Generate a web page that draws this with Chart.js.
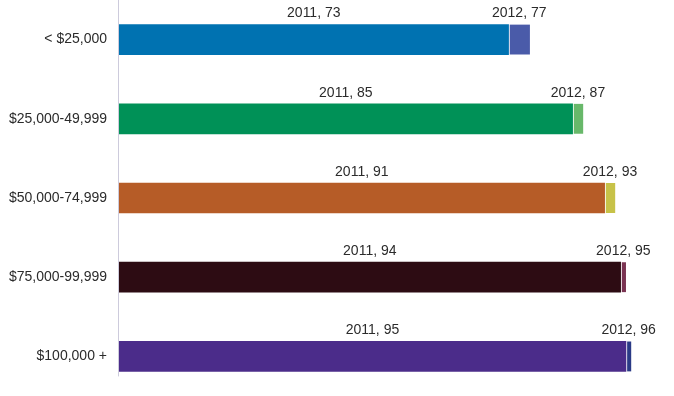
<!DOCTYPE html>
<html>
<head>
<meta charset="utf-8">
<script src="https://cdn.jsdelivr.net/npm/chart.js@4"></script>
<style>
html,body{margin:0;padding:0;background:#fff;}
#wrap{width:674px;height:396px;position:relative;}
</style>
</head>
<body>
<div id="wrap"><canvas id="c" width="674" height="396"></canvas></div>
<script>
const categories = ["< $25,000", "$25,000-49,999", "$50,000-74,999", "$75,000-99,999", "$100,000 +"];
const years = ["2011", "2012"];
const values2011 = [73, 85, 91, 94, 95];
const values2012 = [77, 87, 93, 95, 96];
const colors2011 = ["#0072b1", "#009157", "#b65c27", "#2d0c13", "#4b2c8a"];
const colors2012 = ["#4a5ba9", "#68b86a", "#c7c248", "#7a3352", "#2a3a86"];

const labelPlugin = {
  id: 'segLabels',
  afterDatasetsDraw(chart) {
    const ctx = chart.ctx;
    ctx.save();
    ctx.font = '14px "Liberation Sans", Arial, sans-serif';
    ctx.fillStyle = '#2b2b2b';
    ctx.textAlign = 'center';
    ctx.textBaseline = 'bottom';
    chart.data.datasets.forEach((ds, di) => {
      const meta = chart.getDatasetMeta(di);
      meta.data.forEach((bar, i) => {
        const p = bar.getProps(['x', 'base', 'y', 'height'], true);
        const cx = (p.x + p.base) / 2;
        const top = p.y - p.height / 2;
        const v = di === 0 ? values2011[i] : values2012[i];
        ctx.fillText(years[di] + ', ' + v, cx, top - 4);
      });
    });
    ctx.restore();
  }
};

const axisLinePlugin = {
  id: 'axisLine',
  beforeDatasetsDraw(chart) {
    const ctx = chart.ctx;
    const xs = chart.scales.x;
    const meta = chart.getDatasetMeta(0);
    const last = meta.data[meta.data.length - 1];
    const bottom = last.y + last.height / 2 + 5;
    const x = Math.round(xs.getPixelForValue(0)) - 0.5;
    ctx.save();
    ctx.strokeStyle = '#cdcbdc';
    ctx.lineWidth = 1;
    ctx.beginPath();
    ctx.moveTo(x, 0);
    ctx.lineTo(x, bottom);
    ctx.stroke();
    ctx.restore();
  }
};

new Chart(document.getElementById('c'), {
  type: 'bar',
  data: {
    labels: categories,
    datasets: [
      {
        label: years[0],
        data: values2011,
        backgroundColor: colors2011,
        borderWidth: 0,
        barThickness: 30
      },
      {
        label: years[1],
        data: values2012.map((v, i) => [values2011[i], v]),
        backgroundColor: colors2012,
        borderColor: '#ffffff',
        borderWidth: {left: 1.5, right: 0, top: 0, bottom: 0},
        borderSkipped: false,
        barThickness: 30
      }
    ]
  },
  options: {
    indexAxis: 'y',
    responsive: false,
    animation: false,
    layout: {padding: 0},
    plugins: {legend: {display: false}, tooltip: {enabled: false}, title: {display: false}},
    scales: {
      x: {
        display: false,
        min: 0,
        max: 104,
        stacked: false
      },
      y: {
        stacked: true,
        grid: {display: false, drawTicks: false},
        border: {display: false},
        ticks: {
          color: '#2b2b2b',
          font: {family: '"Liberation Sans", Arial, sans-serif', size: 14},
          padding: 12
        },
        afterFit(scale) { scale.width = 119; scale.paddingTop = 0; scale.paddingBottom = 0; }
      }
    }
  },
  plugins: [axisLinePlugin, labelPlugin]
});
</script>
</body>
</html>
